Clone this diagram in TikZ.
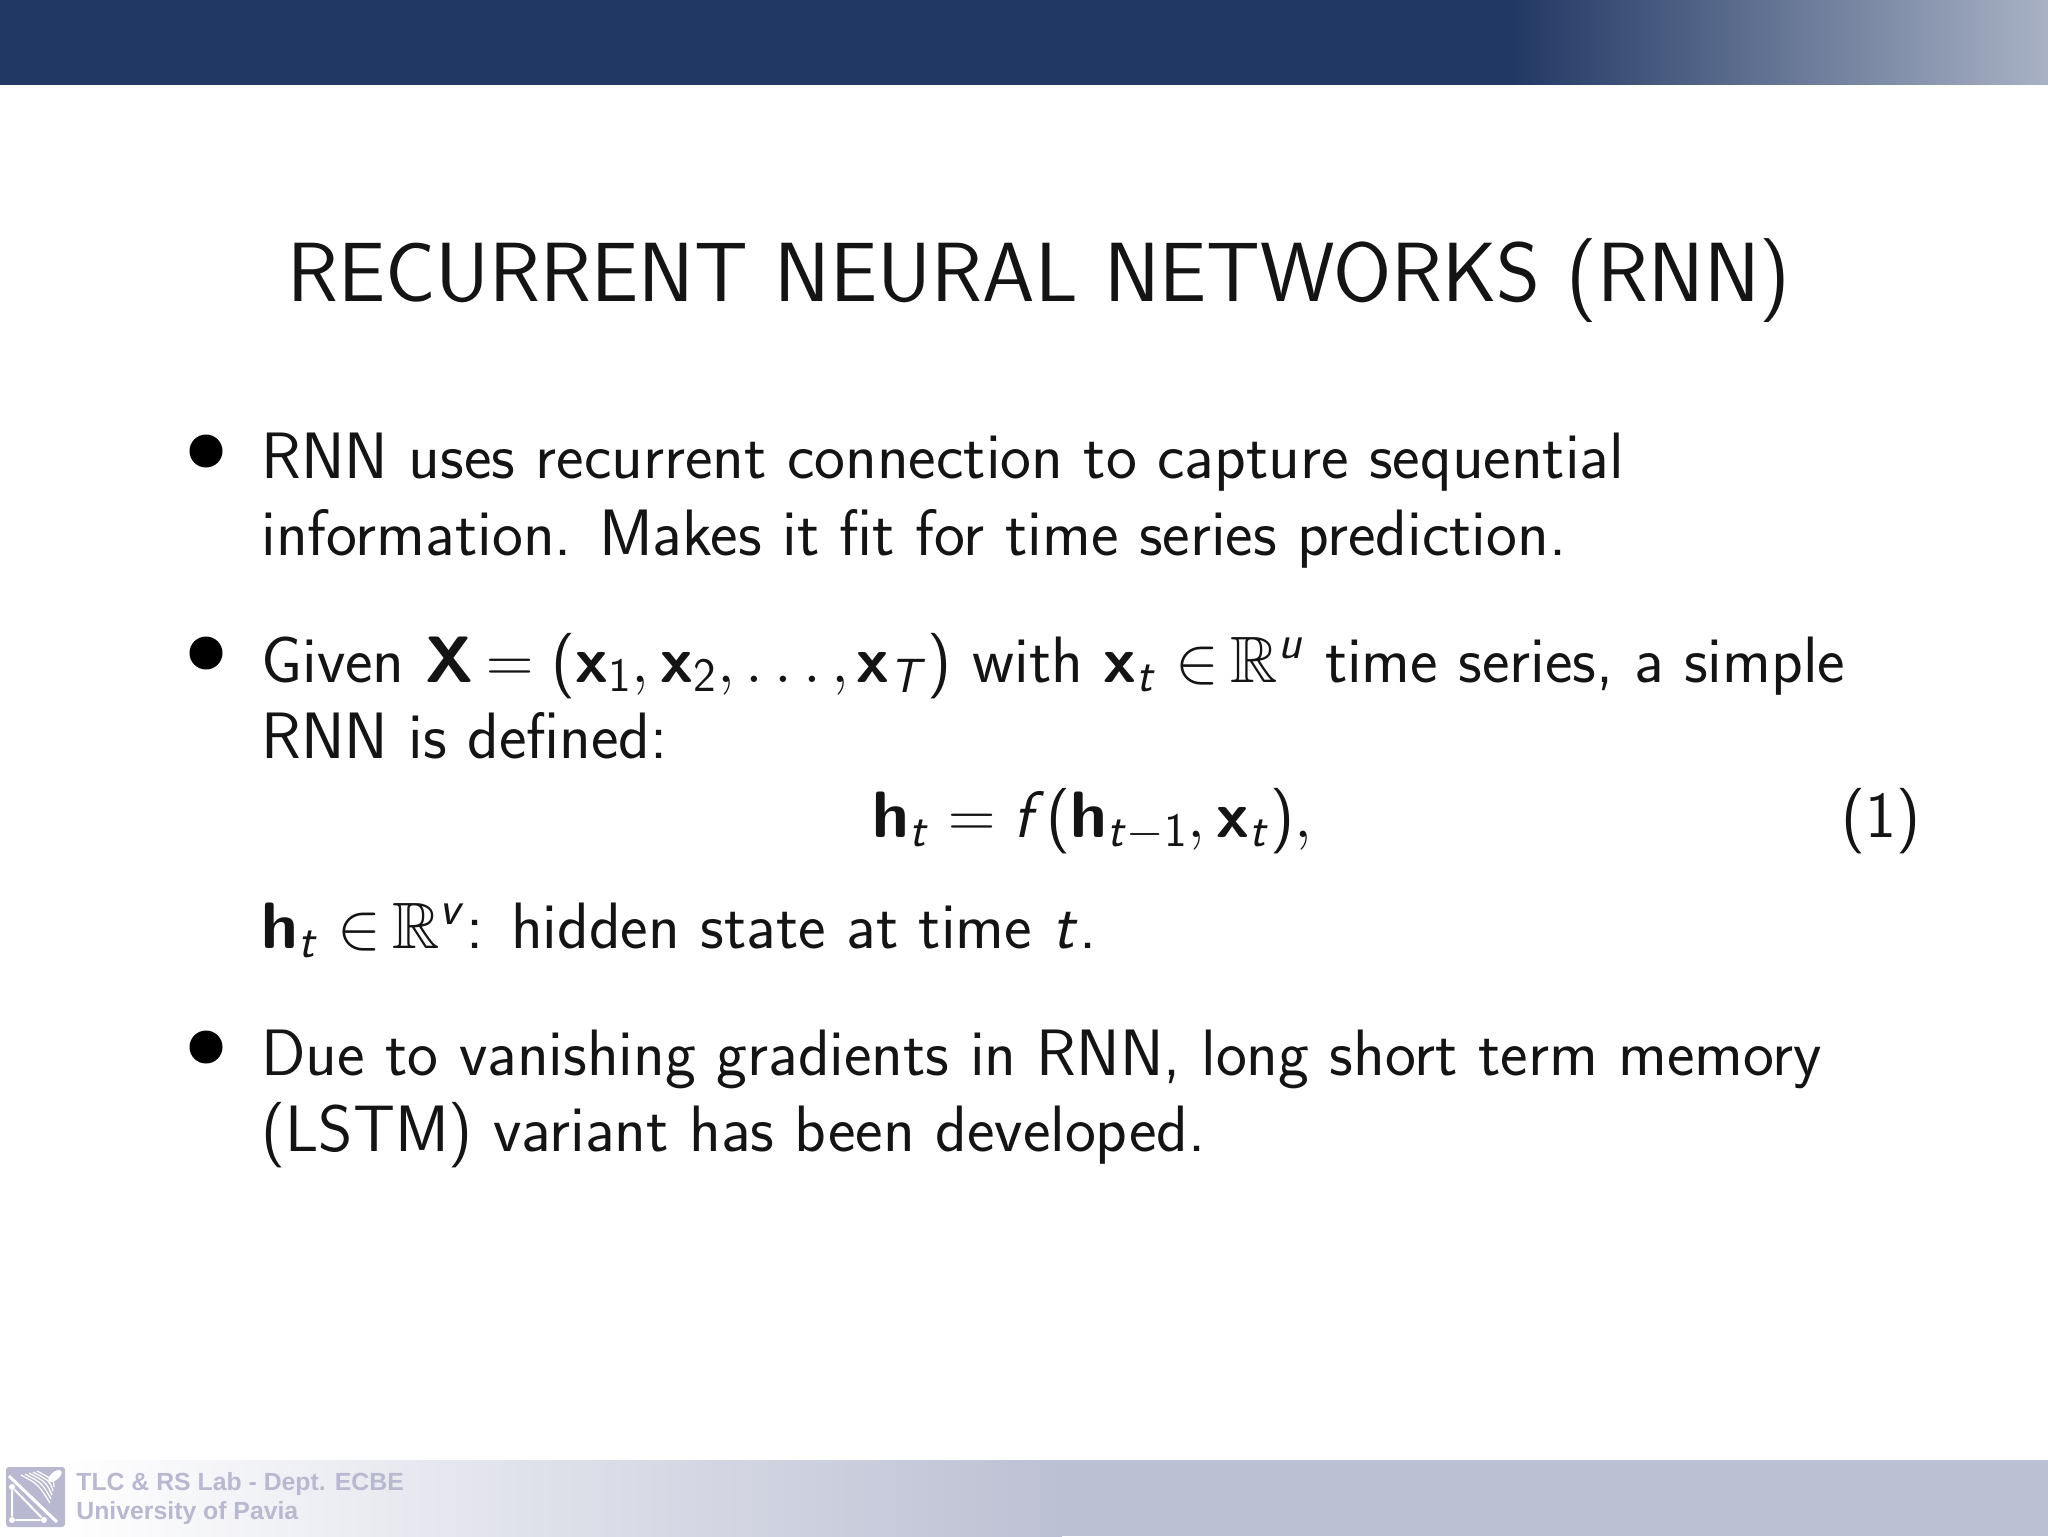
\documentclass[tikz,border=0pt]{standalone}
\usepackage{fontspec}
\usepackage{fix-cm}
\usepackage{amsmath,amssymb}
\newfontfamily\footfont{Liberation Sans}
\setmainfont{Latin Modern Sans}
\DeclareMathAlphabet{\mathsfb}{OT1}{cmss}{bx}{n}
\DeclareMathAlphabet{\mathsfi}{OT1}{cmss}{m}{sl}
\DeclareFontFamily{U}{bbsym}{}
\DeclareFontShape{U}{bbsym}{m}{n}{<-> msbm10}{}
\DeclareSymbolFont{bbsymfont}{U}{bbsym}{m}{n}
\DeclareMathSymbol{\bbR}{\mathord}{bbsymfont}{"52}
\DeclareMathSizes{32.8}{32.8}{24}{18}
\newcommand{\vx}{\mathsfb{x}}
\newcommand{\vh}{\mathsfb{h}}
\newcommand{\lpar}{\mathopen{\textnormal{(}}}
\newcommand{\rpar}{\mathclose{\textnormal{)}}}
\newcommand{\inset}{\in\mspace{-1.8mu}}
\definecolor{barblue}{HTML}{213864}
\definecolor{barfade}{HTML}{A9B2C5}
\definecolor{footblue}{HTML}{BCC0D3}
\definecolor{logogray}{HTML}{B8B9D0}
\definecolor{textblack}{HTML}{141414}
\tikzset{
  bodyline/.style={anchor=base west,inner sep=0pt,text=textblack,font=\fontsize{32.8}{38}\selectfont},
  titleline/.style={anchor=base,inner sep=0pt,text=textblack,font=\fontsize{42}{50}\selectfont},
  footline/.style={anchor=base west,inner sep=0pt,text=logogray,font=\footfont\bfseries\fontsize{12.4}{14}\selectfont},
  bulletdot/.style={circle,fill=black,inner sep=0pt,minimum size=33*0.5pt},
  logodot/.style={circle,fill=white,inner sep=0pt,minimum size=3pt}
}
\begin{document}
\begin{tikzpicture}[x=0.5pt,y=-0.5pt]
	\useasboundingbox (0,0) rectangle (2048,1536);
	\fill[white] (0,0) rectangle (2048,1536); % page

	\fill[barblue] (0,0) rectangle (1510,85); % top bar
	\shade[left color=barblue,right color=barfade] (1510,0) rectangle (2048,85);

	\shade[left color=white,right color=footblue] (60,1460) rectangle (1062,1536); % foot bar
	\fill[footblue] (1062,1460) rectangle (2048,1536);

	\fill[logogray,rounded corners=1.5pt] (6,1467) rectangle (65,1527); % logo
	\draw[white,line width=1.5pt] (9,1476) -- (57,1522);
	\node[logodot] (logotop) at (12,1487) {};
	\node[logodot] (logoleft) at (12,1520) {};
	\node[logodot] (logoright) at (44,1520) {};
	\draw[white,line width=1pt] (logotop) -- (logoleft) -- (logoright) -- (logotop);
	\foreach \i in {0,...,4}
		\draw[white,line width=0.6pt] (21+\i*4,1475-\i) .. controls (38+\i*4,1484-\i) .. (50+\i,1503-\i*4);
	\fill[white,rotate around={40:(55,1476)}] (55,1476) ellipse (8 and 4);

	\node[titleline] (title) at (1039,301) {RECURRENT NEURAL NETWORKS (RNN)};

	\node[bulletdot] (dotrnn) at (206,451) {}; % first item
	\node[bodyline] (rnnone) at (261,478) {RNN uses recurrent connection to capture sequential};
	\node[bodyline] (rnntwo) at (261,555) {information. Makes it fit for time series prediction.};

	\node[bulletdot] (dotgiven) at (206,653) {}; % second item
	\node[bodyline] (givenone) at (261,682) {Given $\mathsfb{X}\mspace{-1.5mu}=\lpar\vx_{\mathsf{1}},\vx_{\mathsf{2}},\dots,\mspace{-1.1mu}\vx_{\mathsfi{T}}\rpar$ with $\vx_{\mathsfi{t}}\inset\bbR^{\mathsfi{u}}$ time series, a simple};
	\node[bodyline] (giventwo) at (261,758) {RNN is defined:};
	\node[bodyline] (eqn) at (872,837) {$\vh_{\mathsfi{t}}=\mathsfi{f}\lpar\vh_{\mathsfi{t}-\mathsf{1}},\vx_{\mathsfi{t}}\rpar,$};
	\node[bodyline,anchor=base east] (eqnum) at (1921,837) {(1)};
	\node[bodyline] (hidden) at (261,948) {$\vh_{\mathsfi{t}}\inset\bbR^{\mathsfi{v}}$: hidden state at time $\mathsfi{t}$.};

	\node[bulletdot] (dotdue) at (206,1047) {}; % third item
	\node[bodyline] (dueone) at (261,1075) {Due to vanishing gradients in RNN, long short term memory};
	\node[bodyline] (duetwo) at (261,1151) {(LSTM) variant has been developed.};

	\node[footline] (labname) at (76,1490) {TLC \& RS Lab - Dept. ECBE};
	\node[footline] (uniname) at (76,1519) {University of Pavia};
\end{tikzpicture}
\end{document}
